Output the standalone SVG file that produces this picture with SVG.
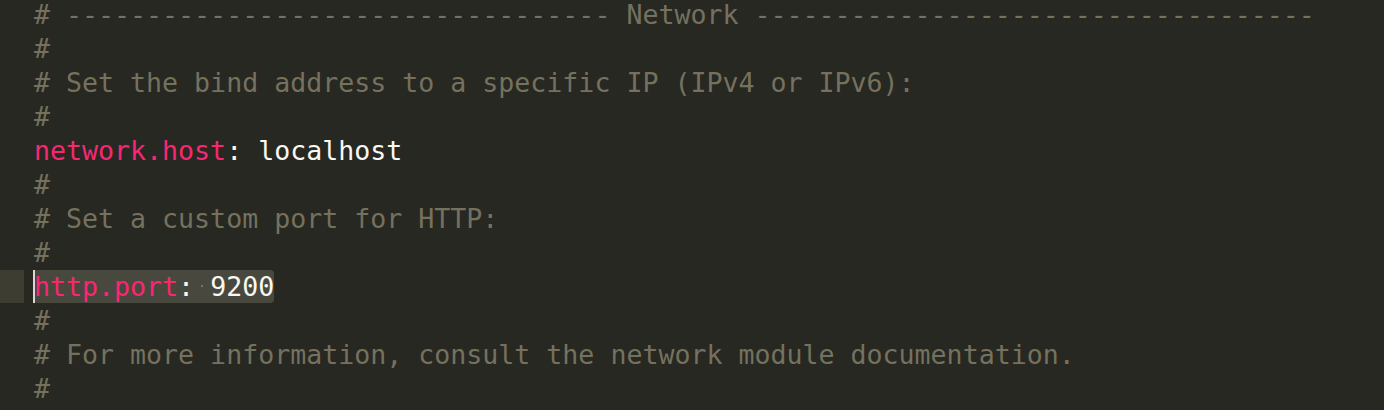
<svg xmlns="http://www.w3.org/2000/svg" width="1384" height="410" viewBox="0 0 1384 410">
<style>
text{font-family:"DejaVu Sans Mono","Liberation Mono",monospace;font-size:26.6px;white-space:pre}
.c{fill:#75715E}
.k{fill:#F92672}
.v{fill:#F8F8F2}
</style>
<rect x="0" y="0" width="1384" height="410" fill="#272822"/>
<rect x="0" y="270" width="24" height="33" fill="#3E3D32"/>
<rect x="33" y="270" width="241" height="33" rx="4" fill="#49483E"/>
<rect x="33" y="270" width="2" height="33" fill="#D8D8D0"/>
<g id="code" xml:space="preserve">
<text class="c" x="34" y="24"># ---------------------------------- Network -----------------------------------</text>
<text class="c" x="34" y="58">#</text>
<text class="c" x="34" y="92"># Set the bind address to a specific IP (IPv4 or IPv6):</text>
<text class="c" x="34" y="126">#</text>
<text x="34" y="160"><tspan class="k">network.host</tspan><tspan class="v">: localhost</tspan></text>
<text class="c" x="34" y="194">#</text>
<text class="c" x="34" y="228"># Set a custom port for HTTP:</text>
<text class="c" x="34" y="262">#</text>
<text x="34" y="296"><tspan class="k">http.port</tspan><tspan class="v">: 9200</tspan></text>
<text class="c" x="34" y="330">#</text>
<text class="c" x="34" y="364"># For more information, consult the network module documentation.</text>
<text class="c" x="34" y="398">#</text>
</g>
<circle cx="202" cy="286" r="1.2" fill="#75715E"/>
</svg>
